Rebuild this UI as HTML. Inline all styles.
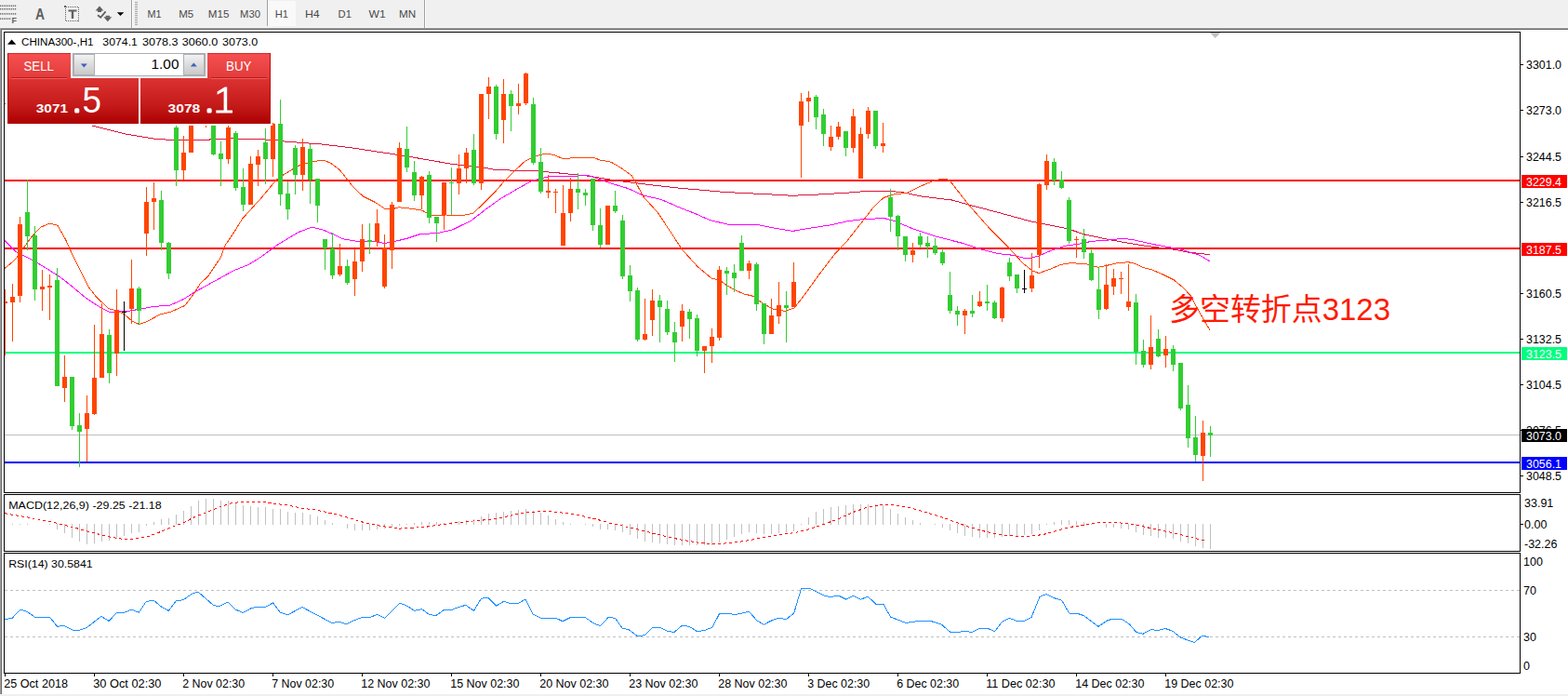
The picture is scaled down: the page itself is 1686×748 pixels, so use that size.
<!DOCTYPE html>
<html><head><meta charset="utf-8"><title>CHINA300-,H1</title>
<style>html,body{margin:0;padding:0;background:#fff;}body{width:1686px;height:748px;overflow:hidden;font-family:"Liberation Sans", sans-serif;}svg text{white-space:pre}</style>
</head><body>
<svg width="1686" height="748" viewBox="0 0 1686 748" font-family='"Liberation Sans", sans-serif' style="display:block">
<defs>
<linearGradient id="gTop" x1="0" y1="0" x2="0" y2="1"><stop offset="0" stop-color="#f65050"/><stop offset="1" stop-color="#e03a3a"/></linearGradient>
<linearGradient id="gBot" x1="0" y1="0" x2="0" y2="1"><stop offset="0" stop-color="#dc3232"/><stop offset="0.6" stop-color="#c41a1a"/><stop offset="1" stop-color="#ac0000"/></linearGradient>
<linearGradient id="gBtn" x1="0" y1="0" x2="0" y2="1"><stop offset="0" stop-color="#f4f4f4"/><stop offset="0.5" stop-color="#dcdcdc"/><stop offset="1" stop-color="#c8c8c8"/></linearGradient>
<clipPath id="cpMain"><rect x="5" y="35" width="1629" height="494"/></clipPath>
</defs>
<rect x="0" y="0" width="1686" height="748" fill="#ffffff" />
<rect x="0" y="0" width="1686" height="31" fill="#f0f0f0" />
<rect x="0" y="29" width="1686" height="1" fill="#f6f6f6" />
<rect x="0" y="30" width="1686" height="1" fill="#a0a0a0" />
<rect x="0" y="31" width="1686" height="1" fill="#696969" />
<rect x="0" y="30" width="1" height="716" fill="#a0a0a0" />
<rect x="1" y="31" width="1" height="715" fill="#696969" />
<rect x="0" y="746" width="1686" height="2" fill="#f0f0f0" />
<g fill="#606060">
<rect x="0.1" y="5.5" width="1.1" height="1.6"/>
<rect x="2.1" y="5.5" width="1.1" height="1.6"/>
<rect x="4.1" y="5.5" width="1.1" height="1.6"/>
<rect x="6.1" y="5.5" width="1.1" height="1.6"/>
<rect x="8.1" y="5.5" width="1.1" height="1.6"/>
<rect x="10.1" y="5.5" width="1.1" height="1.6"/>
<rect x="12.1" y="5.5" width="1.1" height="1.6"/>
<rect x="14.1" y="5.5" width="1.1" height="1.6"/>
<rect x="16.1" y="5.5" width="1.1" height="1.6"/>
<rect x="0.1" y="8.9" width="1.1" height="1.6"/>
<rect x="2.1" y="8.9" width="1.1" height="1.6"/>
<rect x="4.1" y="8.9" width="1.1" height="1.6"/>
<rect x="6.1" y="8.9" width="1.1" height="1.6"/>
<rect x="8.1" y="8.9" width="1.1" height="1.6"/>
<rect x="10.1" y="8.9" width="1.1" height="1.6"/>
<rect x="12.1" y="8.9" width="1.1" height="1.6"/>
<rect x="14.1" y="8.9" width="1.1" height="1.6"/>
<rect x="16.1" y="8.9" width="1.1" height="1.6"/>
<rect x="0.1" y="14.1" width="1.1" height="1.6"/>
<rect x="2.1" y="14.1" width="1.1" height="1.6"/>
<rect x="4.1" y="14.1" width="1.1" height="1.6"/>
<rect x="6.1" y="14.1" width="1.1" height="1.6"/>
<rect x="8.1" y="14.1" width="1.1" height="1.6"/>
<rect x="10.1" y="14.1" width="1.1" height="1.6"/>
<rect x="12.1" y="14.1" width="1.1" height="1.6"/>
<rect x="14.1" y="14.1" width="1.1" height="1.6"/>
<rect x="16.1" y="14.1" width="1.1" height="1.6"/>
<rect x="0.1" y="19.4" width="1.1" height="1.6"/>
<rect x="2.1" y="19.4" width="1.1" height="1.6"/>
<rect x="4.1" y="19.4" width="1.1" height="1.6"/>
<rect x="6.1" y="19.4" width="1.1" height="1.6"/>
<rect x="8.1" y="19.4" width="1.1" height="1.6"/>
<rect x="10.1" y="19.4" width="1.1" height="1.6"/>
</g>
<text x="12.5" y="25" font-size="9" font-weight="bold" fill="#606060">F</text>
<text x="38" y="20.5" font-size="16" font-weight="bold" fill="#606060" textLength="10" lengthAdjust="spacingAndGlyphs">A</text>
<rect x="70.5" y="7.5" width="14" height="15" fill="none" stroke="#606060" stroke-width="1" stroke-dasharray="1 1" shape-rendering="crispEdges"/>
<rect x="69" y="6" width="2" height="2" fill="#606060"/>
<path d="M73.5 10.5H82.5V12.5H79.2V20H76.8V12.5H73.5Z" fill="#606060"/>
<path d="M107 6.4L111.4 11.6H109V13H105V11.6H102.6Z" fill="#606060"/>
<path d="M105 16.3L108.2 18.8L113.6 12.4" fill="none" stroke="#606060" stroke-width="1.8"/>
<path d="M111.5 18.2H120.2L115.8 23.2Z" fill="#606060"/>
<path d="M113.6 16.8H118V18.3H113.6Z" fill="#606060"/>
<path d="M125.8 13.2H133.3L129.5 17Z" fill="#000"/>
<g shape-rendering="crispEdges">
<rect x="141" y="0" width="1" height="30" fill="#a0a0a0"/>
<rect x="142" y="0" width="1" height="30" fill="#ffffff"/>
<rect x="145" y="2" width="3" height="1" fill="#a8a8a8"/>
<rect x="145" y="4" width="3" height="1" fill="#a8a8a8"/>
<rect x="145" y="6" width="3" height="1" fill="#a8a8a8"/>
<rect x="145" y="8" width="3" height="1" fill="#a8a8a8"/>
<rect x="145" y="10" width="3" height="1" fill="#a8a8a8"/>
<rect x="145" y="12" width="3" height="1" fill="#a8a8a8"/>
<rect x="145" y="14" width="3" height="1" fill="#a8a8a8"/>
<rect x="145" y="16" width="3" height="1" fill="#a8a8a8"/>
<rect x="145" y="18" width="3" height="1" fill="#a8a8a8"/>
<rect x="145" y="20" width="3" height="1" fill="#a8a8a8"/>
<rect x="145" y="22" width="3" height="1" fill="#a8a8a8"/>
<rect x="145" y="24" width="3" height="1" fill="#a8a8a8"/>
<rect x="145" y="26" width="3" height="1" fill="#a8a8a8"/>
<rect x="288" y="1" width="30" height="27" fill="#f9f9f9"/>
<rect x="287" y="0" width="1" height="28" fill="#a0a0a0"/>
<rect x="456" y="0" width="1" height="30" fill="#a0a0a0"/>
<rect x="457" y="0" width="1" height="30" fill="#ffffff"/>
</g>
<text x="158.4" y="19" font-size="11.5" fill="#4a4a4a" textLength="15.1" lengthAdjust="spacingAndGlyphs">M1</text>
<text x="192.2" y="19" font-size="11.5" fill="#4a4a4a" textLength="16.0" lengthAdjust="spacingAndGlyphs">M5</text>
<text x="223.8" y="19" font-size="11.5" fill="#4a4a4a" textLength="22.6" lengthAdjust="spacingAndGlyphs">M15</text>
<text x="258" y="19" font-size="11.5" fill="#4a4a4a" textLength="21.9" lengthAdjust="spacingAndGlyphs">M30</text>
<text x="295.7" y="19" font-size="11.5" fill="#4a4a4a" textLength="14.2" lengthAdjust="spacingAndGlyphs">H1</text>
<text x="328" y="19" font-size="11.5" fill="#4a4a4a" textLength="15.7" lengthAdjust="spacingAndGlyphs">H4</text>
<text x="363.6" y="19" font-size="11.5" fill="#4a4a4a" textLength="14.3" lengthAdjust="spacingAndGlyphs">D1</text>
<text x="396.5" y="19" font-size="11.5" fill="#4a4a4a" textLength="18.2" lengthAdjust="spacingAndGlyphs">W1</text>
<text x="429.1" y="19" font-size="11.5" fill="#4a4a4a" textLength="18.2" lengthAdjust="spacingAndGlyphs">MN</text>
<g shape-rendering="crispEdges" fill="none" stroke="#000" stroke-width="1">
<path d="M4.5 34.5H1634.5V529.5H4.5Z"/>
<path d="M4.5 531.5H1634.5V592.5H4.5Z"/>
<path d="M4.5 594.5H1634.5V723.5H4.5Z"/>
</g>
<g clip-path="url(#cpMain)">
<rect x="5" y="467" width="1629" height="1" fill="#c0c0c0" shape-rendering="crispEdges"/>
<g shape-rendering="crispEdges">
<rect x="5" y="193" width="1629" height="2" fill="#ff0000" />
<rect x="5" y="266" width="1629" height="2" fill="#ff0000" />
<rect x="5" y="378" width="1629" height="2" fill="#00ff7f" />
<rect x="5" y="496" width="1629" height="2" fill="#0000ff" />
</g>
<polyline points="5.0,111.5 50.0,123.0 100.2,135.3 133.6,143.7 167.0,149.3 180.0,150.1 208.4,150.9 246.8,148.9 280.2,149.7 296.9,150.6 307.0,152.1 347.0,155.1 380.5,159.2 413.9,164.3 430.6,166.8 450.0,170.1 483.4,175.9 500.1,178.1 521.8,180.4 533.5,182.6 577.0,183.8 600.4,185.9 633.8,189.3 658.8,193.5 683.9,196.8 709.0,199.8 730.0,202.1 780.0,206.5 830.0,209.0 851.7,210.3 880.1,209.0 913.5,207.0 933.6,205.3 957.0,205.3 972.0,207.0 990.1,210.9 1023.5,215.0 1040.2,219.7 1073.6,228.4 1107.0,237.6 1132.1,242.6 1148.8,246.0 1165.5,251.8 1190.6,257.1 1207.3,260.2 1227.1,263.6 1260.5,267.8 1277.2,271.1 1300.6,273.6" fill="none" stroke="#dc143c" stroke-width="1" stroke-linejoin="round" shape-rendering="crispEdges"/>
<polyline points="5.0,258.5 16.7,270.2 33.4,278.6 50.1,288.6 61.8,295.8 75.2,305.9 91.9,320.0 108.6,330.9 116.9,335.1 127.0,335.1 138.7,334.3 150.4,332.1 167.0,329.2 182.1,328.4 197.1,321.7 208.8,314.2 225.5,305.0 242.2,295.8 250.6,291.1 267.3,284.4 280.0,276.6 300.0,262.0 321.2,249.5 335.4,244.1 346.7,246.8 358.4,251.8 368.4,256.8 385.1,259.6 400.2,259.0 413.5,261.5 425.2,259.3 438.6,256.0 452.0,251.5 470.3,250.6 487.0,246.8 507.1,236.8 522.1,225.1 537.2,214.2 556.9,202.6 572.0,194.3 590.3,189.6 617.0,189.3 632.1,188.4 642.1,191.8 658.8,197.6 675.5,202.6 692.2,210.2 710.6,214.3 730.0,222.7 748.6,230.0 763.6,236.7 783.7,241.4 813.8,241.4 830.5,244.7 852.2,248.4 872.2,245.0 894.0,241.7 910.0,238.0 925.0,236.0 940.0,235.1 950.0,234.3 961.7,237.6 981.8,246.0 1006.8,254.3 1033.5,261.0 1056.9,268.5 1073.6,272.7 1090.3,274.4 1100.4,277.2 1108.7,277.2 1117.1,274.9 1132.1,268.5 1145.5,264.3 1162.2,261.8 1173.9,259.3 1190.6,258.1 1207.3,256.3 1218.7,257.8 1243.8,263.3 1268.8,267.8 1290.5,274.5 1301.0,281.0" fill="none" stroke="#ff00ff" stroke-width="1" stroke-linejoin="round" shape-rendering="crispEdges"/>
<polyline points="5.0,288.6 16.7,278.6 33.4,255.2 43.4,244.3 53.5,240.1 61.8,242.1 70.2,256.8 80.2,278.6 88.5,295.0 95.2,308.4 103.6,319.2 116.9,331.8 125.3,333.8 133.6,337.6 142.0,345.1 149.5,348.5 157.0,346.0 172.0,338.1 183.8,335.1 198.8,328.4 208.8,315.0 215.5,304.5 223.9,296.7 237.2,276.9 242.2,263.5 251.8,249.5 260.6,235.1 280.2,213.5 296.9,193.5 303.6,188.5 313.6,182.6 323.7,176.8 337.0,173.4 347.9,172.3 355.4,175.1 365.4,182.6 373.8,193.5 380.5,201.8 390.5,211.0 403.9,217.7 413.9,224.4 421.4,224.9 428.9,222.7 440.6,224.1 454.0,226.1 463.4,231.5 480.0,231.0 495.1,231.9 508.5,229.4 520.2,218.5 531.9,206.8 541.9,195.1 553.6,183.4 565.3,172.6 577.0,167.6 587.0,165.1 595.3,166.4 605.4,170.6 617.0,169.7 627.1,169.2 638.8,169.7 645.5,172.1 657.2,174.2 667.2,180.1 678.9,188.4 683.9,196.8 692.2,211.8 707.3,228.5 720.6,248.6 733.6,268.4 750.3,286.8 765.3,299.3 773.7,301.0 780.4,306.0 790.4,311.9 800.4,316.0 810.4,318.5 820.4,326.1 830.5,331.9 843.8,334.4 853.9,331.1 863.9,318.5 880.6,295.2 897.3,273.4 910.0,260.0 925.0,241.0 940.0,221.7 950.0,212.5 961.7,208.7 975.1,207.5 990.1,200.0 1003.7,194.4 1012.1,192.2 1018.8,192.7 1022.1,195.2 1040.2,218.4 1063.6,245.1 1083.7,265.2 1100.4,283.5 1110.4,291.1 1117.1,293.6 1128.8,289.4 1140.5,284.4 1150.5,282.7 1167.2,283.5 1180.6,287.2 1190.6,285.2 1204.0,282.2 1214.0,281.9 1220.0,283.2 1228.9,287.5 1238.9,290.0 1250.6,295.0 1262.3,300.9 1272.3,309.2 1280.0,317.6 1290.0,336.0 1301.0,355.0" fill="none" stroke="#ff4500" stroke-width="1" stroke-linejoin="round" shape-rendering="crispEdges"/>
<g shape-rendering="crispEdges">
<rect x="5" y="311" width="1" height="71" fill="#ff4500" />
<rect x="3" y="324" width="5" height="2" fill="#ff4500" />
<rect x="13" y="305" width="1" height="62" fill="#ff4500" />
<rect x="11" y="319" width="5" height="6" fill="#ff4500" />
<rect x="21" y="233" width="1" height="92" fill="#ff4500" />
<rect x="19" y="241" width="5" height="77" fill="#ff4500" />
<rect x="29" y="193" width="1" height="76" fill="#32cd32" />
<rect x="27" y="228" width="5" height="26" fill="#32cd32" />
<rect x="37" y="243" width="1" height="80" fill="#32cd32" />
<rect x="35" y="253" width="5" height="58" fill="#32cd32" />
<rect x="45" y="290" width="1" height="44" fill="#ff4500" />
<rect x="43" y="308" width="5" height="3" fill="#ff4500" />
<rect x="53" y="295" width="1" height="49" fill="#ff4500" />
<rect x="51" y="307" width="5" height="2" fill="#ff4500" />
<rect x="61" y="288" width="1" height="127" fill="#32cd32" />
<rect x="59" y="301" width="5" height="114" fill="#32cd32" />
<rect x="69" y="382" width="1" height="50" fill="#ff4500" />
<rect x="67" y="405" width="5" height="12" fill="#ff4500" />
<rect x="77" y="405" width="1" height="57" fill="#32cd32" />
<rect x="75" y="405" width="5" height="53" fill="#32cd32" />
<rect x="85" y="444" width="1" height="58" fill="#32cd32" />
<rect x="83" y="457" width="5" height="7" fill="#32cd32" />
<rect x="93" y="425" width="1" height="71" fill="#ff4500" />
<rect x="91" y="444" width="5" height="17" fill="#ff4500" />
<rect x="101" y="349" width="1" height="97" fill="#ff4500" />
<rect x="99" y="406" width="5" height="39" fill="#ff4500" />
<rect x="109" y="326" width="1" height="80" fill="#ff4500" />
<rect x="107" y="359" width="5" height="47" fill="#ff4500" />
<rect x="117" y="354" width="1" height="58" fill="#32cd32" />
<rect x="115" y="360" width="5" height="41" fill="#32cd32" />
<rect x="125" y="311" width="1" height="93" fill="#ff4500" />
<rect x="123" y="333" width="5" height="47" fill="#ff4500" />
<rect x="133" y="324" width="1" height="53" fill="#000000" />
<rect x="131" y="335" width="5" height="1" fill="#000000" />
<rect x="141" y="279" width="1" height="69" fill="#ff4500" />
<rect x="139" y="310" width="5" height="22" fill="#ff4500" />
<rect x="149" y="308" width="1" height="41" fill="#32cd32" />
<rect x="147" y="310" width="5" height="24" fill="#32cd32" />
<rect x="157" y="201" width="1" height="74" fill="#ff4500" />
<rect x="155" y="217" width="5" height="34" fill="#ff4500" />
<rect x="165" y="196" width="1" height="51" fill="#ff4500" />
<rect x="163" y="213" width="5" height="4" fill="#ff4500" />
<rect x="173" y="205" width="1" height="64" fill="#32cd32" />
<rect x="171" y="215" width="5" height="46" fill="#32cd32" />
<rect x="181" y="260" width="1" height="40" fill="#32cd32" />
<rect x="179" y="261" width="5" height="33" fill="#32cd32" />
<rect x="189" y="120" width="1" height="80" fill="#32cd32" />
<rect x="187" y="137" width="5" height="46" fill="#32cd32" />
<rect x="197" y="146" width="1" height="47" fill="#ff4500" />
<rect x="195" y="164" width="5" height="19" fill="#ff4500" />
<rect x="205" y="105" width="1" height="59" fill="#ff4500" />
<rect x="203" y="110" width="5" height="54" fill="#ff4500" />
<rect x="213" y="95" width="1" height="33" fill="#32cd32" />
<rect x="211" y="100" width="5" height="25" fill="#32cd32" />
<rect x="221" y="98" width="1" height="39" fill="#ff4500" />
<rect x="219" y="105" width="5" height="25" fill="#ff4500" />
<rect x="229" y="110" width="1" height="57" fill="#32cd32" />
<rect x="227" y="115" width="5" height="51" fill="#32cd32" />
<rect x="237" y="152" width="1" height="48" fill="#32cd32" />
<rect x="235" y="165" width="5" height="6" fill="#32cd32" />
<rect x="245" y="135" width="1" height="41" fill="#ff4500" />
<rect x="243" y="137" width="5" height="34" fill="#ff4500" />
<rect x="253" y="141" width="1" height="64" fill="#32cd32" />
<rect x="251" y="143" width="5" height="59" fill="#32cd32" />
<rect x="261" y="181" width="1" height="46" fill="#32cd32" />
<rect x="259" y="201" width="5" height="19" fill="#32cd32" />
<rect x="269" y="168" width="1" height="52" fill="#ff4500" />
<rect x="267" y="176" width="5" height="44" fill="#ff4500" />
<rect x="277" y="161" width="1" height="39" fill="#ff4500" />
<rect x="275" y="168" width="5" height="9" fill="#ff4500" />
<rect x="285" y="138" width="1" height="60" fill="#32cd32" />
<rect x="283" y="153" width="5" height="18" fill="#32cd32" />
<rect x="293" y="132" width="1" height="58" fill="#ff4500" />
<rect x="291" y="133" width="5" height="38" fill="#ff4500" />
<rect x="301" y="107" width="1" height="114" fill="#32cd32" />
<rect x="299" y="133" width="5" height="76" fill="#32cd32" />
<rect x="309" y="195" width="1" height="41" fill="#32cd32" />
<rect x="307" y="208" width="5" height="17" fill="#32cd32" />
<rect x="317" y="156" width="1" height="53" fill="#32cd32" />
<rect x="315" y="159" width="5" height="29" fill="#32cd32" />
<rect x="325" y="149" width="1" height="56" fill="#ff4500" />
<rect x="323" y="158" width="5" height="30" fill="#ff4500" />
<rect x="333" y="155" width="1" height="64" fill="#32cd32" />
<rect x="331" y="160" width="5" height="33" fill="#32cd32" />
<rect x="341" y="192" width="1" height="47" fill="#32cd32" />
<rect x="339" y="192" width="5" height="29" fill="#32cd32" />
<rect x="349" y="257" width="1" height="33" fill="#32cd32" />
<rect x="347" y="257" width="5" height="10" fill="#32cd32" />
<rect x="357" y="250" width="1" height="50" fill="#32cd32" />
<rect x="355" y="267" width="5" height="29" fill="#32cd32" />
<rect x="365" y="262" width="1" height="35" fill="#ff4500" />
<rect x="363" y="286" width="5" height="9" fill="#ff4500" />
<rect x="373" y="279" width="1" height="27" fill="#32cd32" />
<rect x="371" y="286" width="5" height="18" fill="#32cd32" />
<rect x="381" y="267" width="1" height="51" fill="#ff4500" />
<rect x="379" y="281" width="5" height="19" fill="#ff4500" />
<rect x="389" y="241" width="1" height="51" fill="#ff4500" />
<rect x="387" y="257" width="5" height="24" fill="#ff4500" />
<rect x="397" y="240" width="1" height="33" fill="#32cd32" />
<rect x="395" y="258" width="5" height="2" fill="#32cd32" />
<rect x="405" y="225" width="1" height="40" fill="#ff4500" />
<rect x="403" y="240" width="5" height="20" fill="#ff4500" />
<rect x="413" y="252" width="1" height="58" fill="#ff4500" />
<rect x="411" y="266" width="5" height="42" fill="#ff4500" />
<rect x="421" y="217" width="1" height="72" fill="#ff4500" />
<rect x="419" y="220" width="5" height="49" fill="#ff4500" />
<rect x="429" y="153" width="1" height="64" fill="#ff4500" />
<rect x="427" y="159" width="5" height="58" fill="#ff4500" />
<rect x="437" y="136" width="1" height="49" fill="#32cd32" />
<rect x="435" y="160" width="5" height="20" fill="#32cd32" />
<rect x="445" y="173" width="1" height="43" fill="#32cd32" />
<rect x="443" y="185" width="5" height="25" fill="#32cd32" />
<rect x="453" y="189" width="1" height="36" fill="#ff4500" />
<rect x="451" y="190" width="5" height="20" fill="#ff4500" />
<rect x="461" y="184" width="1" height="56" fill="#32cd32" />
<rect x="459" y="188" width="5" height="46" fill="#32cd32" />
<rect x="469" y="233" width="1" height="27" fill="#32cd32" />
<rect x="467" y="233" width="5" height="7" fill="#32cd32" />
<rect x="477" y="196" width="1" height="51" fill="#ff4500" />
<rect x="475" y="196" width="5" height="35" fill="#ff4500" />
<rect x="485" y="180" width="1" height="51" fill="#32cd32" />
<rect x="483" y="196" width="5" height="1" fill="#32cd32" />
<rect x="493" y="166" width="1" height="43" fill="#ff4500" />
<rect x="491" y="181" width="5" height="16" fill="#ff4500" />
<rect x="501" y="159" width="1" height="38" fill="#ff4500" />
<rect x="499" y="164" width="5" height="17" fill="#ff4500" />
<rect x="509" y="144" width="1" height="55" fill="#32cd32" />
<rect x="507" y="161" width="5" height="36" fill="#32cd32" />
<rect x="517" y="101" width="1" height="103" fill="#ff4500" />
<rect x="515" y="101" width="5" height="96" fill="#ff4500" />
<rect x="525" y="83" width="1" height="45" fill="#ff4500" />
<rect x="523" y="93" width="5" height="8" fill="#ff4500" />
<rect x="533" y="91" width="1" height="59" fill="#32cd32" />
<rect x="531" y="93" width="5" height="51" fill="#32cd32" />
<rect x="541" y="85" width="1" height="69" fill="#ff4500" />
<rect x="539" y="101" width="5" height="28" fill="#ff4500" />
<rect x="549" y="97" width="1" height="44" fill="#32cd32" />
<rect x="547" y="101" width="5" height="13" fill="#32cd32" />
<rect x="557" y="90" width="1" height="33" fill="#ff4500" />
<rect x="555" y="111" width="5" height="3" fill="#ff4500" />
<rect x="565" y="78" width="1" height="35" fill="#ff4500" />
<rect x="563" y="79" width="5" height="32" fill="#ff4500" />
<rect x="573" y="105" width="1" height="72" fill="#32cd32" />
<rect x="571" y="112" width="5" height="63" fill="#32cd32" />
<rect x="581" y="159" width="1" height="49" fill="#32cd32" />
<rect x="579" y="174" width="5" height="32" fill="#32cd32" />
<rect x="589" y="188" width="1" height="25" fill="#ff4500" />
<rect x="587" y="205" width="5" height="2" fill="#ff4500" />
<rect x="597" y="203" width="1" height="26" fill="#ff4500" />
<rect x="595" y="206" width="5" height="1" fill="#ff4500" />
<rect x="605" y="199" width="1" height="65" fill="#ff4500" />
<rect x="603" y="229" width="5" height="35" fill="#ff4500" />
<rect x="613" y="191" width="1" height="47" fill="#ff4500" />
<rect x="611" y="203" width="5" height="26" fill="#ff4500" />
<rect x="621" y="186" width="1" height="39" fill="#32cd32" />
<rect x="619" y="203" width="5" height="4" fill="#32cd32" />
<rect x="629" y="203" width="1" height="18" fill="#32cd32" />
<rect x="627" y="207" width="5" height="3" fill="#32cd32" />
<rect x="637" y="192" width="1" height="56" fill="#32cd32" />
<rect x="635" y="192" width="5" height="50" fill="#32cd32" />
<rect x="645" y="224" width="1" height="42" fill="#32cd32" />
<rect x="643" y="242" width="5" height="21" fill="#32cd32" />
<rect x="653" y="221" width="1" height="42" fill="#ff4500" />
<rect x="651" y="221" width="5" height="42" fill="#ff4500" />
<rect x="661" y="205" width="1" height="24" fill="#32cd32" />
<rect x="659" y="221" width="5" height="6" fill="#32cd32" />
<rect x="669" y="231" width="1" height="69" fill="#32cd32" />
<rect x="667" y="237" width="5" height="60" fill="#32cd32" />
<rect x="677" y="285" width="1" height="39" fill="#32cd32" />
<rect x="675" y="296" width="5" height="17" fill="#32cd32" />
<rect x="685" y="309" width="1" height="58" fill="#32cd32" />
<rect x="683" y="312" width="5" height="53" fill="#32cd32" />
<rect x="693" y="321" width="1" height="45" fill="#ff4500" />
<rect x="691" y="359" width="5" height="6" fill="#ff4500" />
<rect x="701" y="311" width="1" height="50" fill="#ff4500" />
<rect x="699" y="323" width="5" height="21" fill="#ff4500" />
<rect x="709" y="317" width="1" height="51" fill="#32cd32" />
<rect x="707" y="323" width="5" height="7" fill="#32cd32" />
<rect x="717" y="323" width="1" height="37" fill="#32cd32" />
<rect x="715" y="332" width="5" height="25" fill="#32cd32" />
<rect x="725" y="346" width="1" height="43" fill="#32cd32" />
<rect x="723" y="357" width="5" height="11" fill="#32cd32" />
<rect x="733" y="327" width="1" height="40" fill="#ff4500" />
<rect x="731" y="334" width="5" height="17" fill="#ff4500" />
<rect x="741" y="332" width="1" height="32" fill="#32cd32" />
<rect x="739" y="335" width="5" height="8" fill="#32cd32" />
<rect x="749" y="338" width="1" height="45" fill="#32cd32" />
<rect x="747" y="342" width="5" height="35" fill="#32cd32" />
<rect x="757" y="372" width="1" height="29" fill="#ff4500" />
<rect x="755" y="372" width="5" height="5" fill="#ff4500" />
<rect x="765" y="353" width="1" height="37" fill="#ff4500" />
<rect x="763" y="362" width="5" height="10" fill="#ff4500" />
<rect x="773" y="286" width="1" height="80" fill="#ff4500" />
<rect x="771" y="290" width="5" height="73" fill="#ff4500" />
<rect x="781" y="287" width="1" height="30" fill="#32cd32" />
<rect x="779" y="291" width="5" height="3" fill="#32cd32" />
<rect x="789" y="284" width="1" height="30" fill="#32cd32" />
<rect x="787" y="293" width="5" height="6" fill="#32cd32" />
<rect x="797" y="253" width="1" height="38" fill="#32cd32" />
<rect x="795" y="261" width="5" height="30" fill="#32cd32" />
<rect x="805" y="280" width="1" height="20" fill="#ff4500" />
<rect x="803" y="283" width="5" height="8" fill="#ff4500" />
<rect x="813" y="282" width="1" height="52" fill="#32cd32" />
<rect x="811" y="284" width="5" height="43" fill="#32cd32" />
<rect x="821" y="326" width="1" height="44" fill="#32cd32" />
<rect x="819" y="326" width="5" height="33" fill="#32cd32" />
<rect x="829" y="321" width="1" height="38" fill="#ff4500" />
<rect x="827" y="339" width="5" height="20" fill="#ff4500" />
<rect x="837" y="303" width="1" height="45" fill="#ff4500" />
<rect x="835" y="328" width="5" height="12" fill="#ff4500" />
<rect x="845" y="313" width="1" height="55" fill="#32cd32" />
<rect x="843" y="328" width="5" height="3" fill="#32cd32" />
<rect x="853" y="282" width="1" height="48" fill="#ff4500" />
<rect x="851" y="303" width="5" height="27" fill="#ff4500" />
<rect x="861" y="100" width="1" height="91" fill="#ff4500" />
<rect x="859" y="109" width="5" height="26" fill="#ff4500" />
<rect x="869" y="98" width="1" height="33" fill="#ff4500" />
<rect x="867" y="105" width="5" height="4" fill="#ff4500" />
<rect x="877" y="102" width="1" height="37" fill="#32cd32" />
<rect x="875" y="104" width="5" height="22" fill="#32cd32" />
<rect x="885" y="117" width="1" height="40" fill="#32cd32" />
<rect x="883" y="123" width="5" height="21" fill="#32cd32" />
<rect x="893" y="135" width="1" height="27" fill="#ff4500" />
<rect x="891" y="147" width="5" height="11" fill="#ff4500" />
<rect x="901" y="131" width="1" height="19" fill="#ff4500" />
<rect x="899" y="136" width="5" height="11" fill="#ff4500" />
<rect x="909" y="141" width="1" height="27" fill="#32cd32" />
<rect x="907" y="141" width="5" height="18" fill="#32cd32" />
<rect x="917" y="117" width="1" height="47" fill="#ff4500" />
<rect x="915" y="125" width="5" height="34" fill="#ff4500" />
<rect x="925" y="137" width="1" height="55" fill="#ff4500" />
<rect x="923" y="144" width="5" height="48" fill="#ff4500" />
<rect x="933" y="115" width="1" height="34" fill="#ff4500" />
<rect x="931" y="119" width="5" height="25" fill="#ff4500" />
<rect x="941" y="119" width="1" height="41" fill="#32cd32" />
<rect x="939" y="119" width="5" height="38" fill="#32cd32" />
<rect x="949" y="132" width="1" height="32" fill="#ff4500" />
<rect x="947" y="154" width="5" height="3" fill="#ff4500" />
<rect x="957" y="203" width="1" height="46" fill="#32cd32" />
<rect x="955" y="212" width="5" height="21" fill="#32cd32" />
<rect x="965" y="231" width="1" height="38" fill="#32cd32" />
<rect x="963" y="232" width="5" height="22" fill="#32cd32" />
<rect x="973" y="254" width="1" height="27" fill="#32cd32" />
<rect x="971" y="254" width="5" height="20" fill="#32cd32" />
<rect x="981" y="261" width="1" height="21" fill="#ff4500" />
<rect x="979" y="269" width="5" height="5" fill="#ff4500" />
<rect x="989" y="250" width="1" height="17" fill="#32cd32" />
<rect x="987" y="254" width="5" height="9" fill="#32cd32" />
<rect x="997" y="254" width="1" height="23" fill="#32cd32" />
<rect x="995" y="261" width="5" height="4" fill="#32cd32" />
<rect x="1005" y="256" width="1" height="18" fill="#32cd32" />
<rect x="1003" y="264" width="5" height="8" fill="#32cd32" />
<rect x="1013" y="267" width="1" height="18" fill="#32cd32" />
<rect x="1011" y="271" width="5" height="12" fill="#32cd32" />
<rect x="1021" y="292" width="1" height="45" fill="#32cd32" />
<rect x="1019" y="317" width="5" height="17" fill="#32cd32" />
<rect x="1029" y="329" width="1" height="21" fill="#32cd32" />
<rect x="1027" y="334" width="5" height="4" fill="#32cd32" />
<rect x="1037" y="332" width="1" height="27" fill="#ff4500" />
<rect x="1035" y="334" width="5" height="5" fill="#ff4500" />
<rect x="1045" y="317" width="1" height="24" fill="#32cd32" />
<rect x="1043" y="334" width="5" height="3" fill="#32cd32" />
<rect x="1053" y="313" width="1" height="17" fill="#ff4500" />
<rect x="1051" y="324" width="5" height="5" fill="#ff4500" />
<rect x="1061" y="306" width="1" height="28" fill="#32cd32" />
<rect x="1059" y="324" width="5" height="2" fill="#32cd32" />
<rect x="1069" y="323" width="1" height="20" fill="#32cd32" />
<rect x="1067" y="325" width="5" height="17" fill="#32cd32" />
<rect x="1077" y="308" width="1" height="38" fill="#ff4500" />
<rect x="1075" y="309" width="5" height="33" fill="#ff4500" />
<rect x="1085" y="277" width="1" height="25" fill="#32cd32" />
<rect x="1083" y="282" width="5" height="15" fill="#32cd32" />
<rect x="1093" y="295" width="1" height="20" fill="#32cd32" />
<rect x="1091" y="295" width="5" height="15" fill="#32cd32" />
<rect x="1101" y="290" width="1" height="25" fill="#000000" />
<rect x="1099" y="310" width="5" height="1" fill="#000000" />
<rect x="1109" y="272" width="1" height="42" fill="#ff4500" />
<rect x="1107" y="296" width="5" height="14" fill="#ff4500" />
<rect x="1117" y="197" width="1" height="91" fill="#ff4500" />
<rect x="1115" y="198" width="5" height="76" fill="#ff4500" />
<rect x="1125" y="166" width="1" height="38" fill="#ff4500" />
<rect x="1123" y="173" width="5" height="26" fill="#ff4500" />
<rect x="1133" y="170" width="1" height="29" fill="#32cd32" />
<rect x="1131" y="174" width="5" height="20" fill="#32cd32" />
<rect x="1141" y="184" width="1" height="19" fill="#32cd32" />
<rect x="1139" y="193" width="5" height="9" fill="#32cd32" />
<rect x="1149" y="212" width="1" height="50" fill="#32cd32" />
<rect x="1147" y="215" width="5" height="44" fill="#32cd32" />
<rect x="1157" y="254" width="1" height="23" fill="#ff4500" />
<rect x="1155" y="257" width="5" height="1" fill="#ff4500" />
<rect x="1165" y="246" width="1" height="32" fill="#32cd32" />
<rect x="1163" y="257" width="5" height="14" fill="#32cd32" />
<rect x="1173" y="267" width="1" height="35" fill="#32cd32" />
<rect x="1171" y="272" width="5" height="29" fill="#32cd32" />
<rect x="1181" y="287" width="1" height="56" fill="#32cd32" />
<rect x="1179" y="311" width="5" height="22" fill="#32cd32" />
<rect x="1189" y="284" width="1" height="49" fill="#ff4500" />
<rect x="1187" y="306" width="5" height="26" fill="#ff4500" />
<rect x="1197" y="289" width="1" height="28" fill="#ff4500" />
<rect x="1195" y="299" width="5" height="9" fill="#ff4500" />
<rect x="1205" y="292" width="1" height="24" fill="#ff4500" />
<rect x="1203" y="299" width="5" height="1" fill="#ff4500" />
<rect x="1213" y="284" width="1" height="50" fill="#ff4500" />
<rect x="1211" y="324" width="5" height="6" fill="#ff4500" />
<rect x="1221" y="316" width="1" height="76" fill="#32cd32" />
<rect x="1219" y="325" width="5" height="53" fill="#32cd32" />
<rect x="1229" y="365" width="1" height="30" fill="#32cd32" />
<rect x="1227" y="377" width="5" height="15" fill="#32cd32" />
<rect x="1237" y="339" width="1" height="58" fill="#ff4500" />
<rect x="1235" y="373" width="5" height="19" fill="#ff4500" />
<rect x="1245" y="354" width="1" height="30" fill="#32cd32" />
<rect x="1243" y="364" width="5" height="19" fill="#32cd32" />
<rect x="1253" y="361" width="1" height="34" fill="#ff4500" />
<rect x="1251" y="375" width="5" height="7" fill="#ff4500" />
<rect x="1261" y="371" width="1" height="28" fill="#32cd32" />
<rect x="1259" y="375" width="5" height="17" fill="#32cd32" />
<rect x="1269" y="390" width="1" height="51" fill="#32cd32" />
<rect x="1267" y="390" width="5" height="49" fill="#32cd32" />
<rect x="1277" y="414" width="1" height="67" fill="#32cd32" />
<rect x="1275" y="435" width="5" height="36" fill="#32cd32" />
<rect x="1285" y="447" width="1" height="49" fill="#32cd32" />
<rect x="1283" y="470" width="5" height="19" fill="#32cd32" />
<rect x="1293" y="452" width="1" height="65" fill="#ff4500" />
<rect x="1291" y="465" width="5" height="25" fill="#ff4500" />
<rect x="1301" y="458" width="1" height="33" fill="#32cd32" />
<rect x="1299" y="465" width="5" height="3" fill="#32cd32" />
</g>
</g>
<text x="1257" y="344" font-size="33" fill="#ff1a00" textLength="238" lengthAdjust="spacingAndGlyphs" style='font-family:"Liberation Sans", "Noto Sans CJK SC", sans-serif'>多空转折点3123</text>
<g shape-rendering="crispEdges">
<rect x="6" y="55" width="287" height="80" fill="#ffffff"/>
<rect x="8" y="84" width="141" height="49" fill="url(#gBot)"/>
<rect x="151" y="84" width="140" height="49" fill="url(#gBot)"/>
<rect x="8" y="57" width="68" height="28" fill="url(#gTop)"/>
<rect x="223" y="57" width="68" height="28" fill="url(#gTop)"/>
<rect x="8" y="57" width="68" height="1" fill="#d42a2a"/>
<rect x="223" y="57" width="68" height="1" fill="#d42a2a"/>
<rect x="8" y="57" width="1" height="76" fill="#b81010"/>
<rect x="290" y="57" width="1" height="76" fill="#b81010"/>
<rect x="12" y="83" width="60" height="1" fill="#c01818"/>
<rect x="12" y="84" width="60" height="1" fill="#f06060"/>
<rect x="227" y="83" width="60" height="1" fill="#c01818"/>
<rect x="227" y="84" width="60" height="1" fill="#f06060"/>
<rect x="76" y="57" width="146" height="27" fill="#f4f4f4"/>
<rect x="78.5" y="57.5" width="142" height="24" fill="#ffffff" stroke="#a8adb8" stroke-width="1"/>
<rect x="79.5" y="58.5" width="22" height="22" fill="url(#gBtn)" stroke="#b0b0b0"/>
<rect x="197.5" y="58.5" width="22" height="22" fill="url(#gBtn)" stroke="#b0b0b0"/>
</g>
<path d="M86.8 68.5H93.8L90.3 72.5Z" fill="#4060c0"/>
<path d="M204.8 71.5H211.8L208.3 67.5Z" fill="#4060c0"/>
<text x="162.6" y="74.3" font-size="14.3" fill="#000" textLength="29.8" lengthAdjust="spacingAndGlyphs">1.00</text>
<text x="25.5" y="76.3" font-size="15.5" fill="#fff" textLength="32.4" lengthAdjust="spacingAndGlyphs">SELL</text>
<text x="243" y="76.3" font-size="15.5" fill="#fff" textLength="27.5" lengthAdjust="spacingAndGlyphs">BUY</text>
<text x="38.8" y="121.2" font-size="13.5" font-weight="bold" fill="#fff" textLength="34.2" lengthAdjust="spacingAndGlyphs">3071</text>
<text x="180.6" y="121.2" font-size="13.5" font-weight="bold" fill="#fff" textLength="34.7" lengthAdjust="spacingAndGlyphs">3078</text>
<rect x="80.1" y="116.3" width="5.2" height="5.3" rx="1.6" fill="#fff"/>
<rect x="222.5" y="116.3" width="5.2" height="5.3" rx="1.6" fill="#fff"/>
<text x="88.5" y="121.2" font-size="38.5" fill="#fff" textLength="20.5" lengthAdjust="spacingAndGlyphs">5</text>
<path d="M244.2 93.6V118.6H250V121.4H232.3V118.6H240.6V98L233.6 101.8V98.4L241.6 93.6Z" fill="#fff"/>
<path d="M1301 35H1312.5L1306.7 41Z" fill="#c0c0c0"/>
<path d="M8 47.7L12.6 42.6L17.3 47.7Z" fill="#000"/>
<text x="23.1" y="48.8" font-size="11.7" fill="#000" text-anchor="start" font-weight="normal" textLength="77.4" lengthAdjust="spacingAndGlyphs" >CHINA300-,H1</text>
<text x="110.3" y="48.8" font-size="11.7" fill="#000" text-anchor="start" font-weight="normal" textLength="37.6" lengthAdjust="spacingAndGlyphs" >3074.1</text>
<text x="153" y="48.8" font-size="11.7" fill="#000" text-anchor="start" font-weight="normal" textLength="38.6" lengthAdjust="spacingAndGlyphs" >3078.3</text>
<text x="195.7" y="48.8" font-size="11.7" fill="#000" text-anchor="start" font-weight="normal" textLength="38.6" lengthAdjust="spacingAndGlyphs" >3060.0</text>
<text x="239" y="48.8" font-size="11.7" fill="#000" text-anchor="start" font-weight="normal" textLength="38.2" lengthAdjust="spacingAndGlyphs" >3073.0</text>
<rect x="1635" y="69" width="3" height="1" fill="#000" shape-rendering="crispEdges"/>
<text x="1641" y="73.5" font-size="12.3" fill="#000" text-anchor="start" font-weight="normal" textLength="38" lengthAdjust="spacingAndGlyphs" >3301.0</text>
<rect x="1635" y="118" width="3" height="1" fill="#000" shape-rendering="crispEdges"/>
<text x="1641" y="122.5" font-size="12.3" fill="#000" text-anchor="start" font-weight="normal" textLength="38" lengthAdjust="spacingAndGlyphs" >3273.0</text>
<rect x="1635" y="168" width="3" height="1" fill="#000" shape-rendering="crispEdges"/>
<text x="1641" y="172.5" font-size="12.3" fill="#000" text-anchor="start" font-weight="normal" textLength="38" lengthAdjust="spacingAndGlyphs" >3244.5</text>
<rect x="1635" y="217" width="3" height="1" fill="#000" shape-rendering="crispEdges"/>
<text x="1641" y="221.5" font-size="12.3" fill="#000" text-anchor="start" font-weight="normal" textLength="38" lengthAdjust="spacingAndGlyphs" >3216.5</text>
<rect x="1635" y="315" width="3" height="1" fill="#000" shape-rendering="crispEdges"/>
<text x="1641" y="319.5" font-size="12.3" fill="#000" text-anchor="start" font-weight="normal" textLength="38" lengthAdjust="spacingAndGlyphs" >3160.5</text>
<rect x="1635" y="364" width="3" height="1" fill="#000" shape-rendering="crispEdges"/>
<text x="1641" y="368.5" font-size="12.3" fill="#000" text-anchor="start" font-weight="normal" textLength="38" lengthAdjust="spacingAndGlyphs" >3132.5</text>
<rect x="1635" y="413" width="3" height="1" fill="#000" shape-rendering="crispEdges"/>
<text x="1641" y="417.5" font-size="12.3" fill="#000" text-anchor="start" font-weight="normal" textLength="38" lengthAdjust="spacingAndGlyphs" >3104.5</text>
<rect x="1635" y="462" width="3" height="1" fill="#000" shape-rendering="crispEdges"/>
<text x="1641" y="466.5" font-size="12.3" fill="#000" text-anchor="start" font-weight="normal" textLength="38" lengthAdjust="spacingAndGlyphs" >3076.5</text>
<rect x="1635" y="511" width="3" height="1" fill="#000" shape-rendering="crispEdges"/>
<text x="1641" y="515.5" font-size="12.3" fill="#000" text-anchor="start" font-weight="normal" textLength="38" lengthAdjust="spacingAndGlyphs" >3048.5</text>
<rect x="1636" y="188" width="49" height="14" fill="#ff0000" shape-rendering="crispEdges"/>
<text x="1641" y="199.7" font-size="12.3" fill="#fff" text-anchor="start" font-weight="normal" textLength="38" lengthAdjust="spacingAndGlyphs" >3229.4</text>
<rect x="1636" y="261" width="49" height="14" fill="#ff0000" shape-rendering="crispEdges"/>
<text x="1641" y="272.7" font-size="12.3" fill="#fff" text-anchor="start" font-weight="normal" textLength="38" lengthAdjust="spacingAndGlyphs" >3187.5</text>
<rect x="1636" y="373" width="49" height="14" fill="#00ff7f" shape-rendering="crispEdges"/>
<text x="1641" y="384.7" font-size="12.3" fill="#fff" text-anchor="start" font-weight="normal" textLength="38" lengthAdjust="spacingAndGlyphs" >3123.5</text>
<rect x="1636" y="461" width="49" height="14" fill="#000000" shape-rendering="crispEdges"/>
<text x="1641" y="472.7" font-size="12.3" fill="#fff" text-anchor="start" font-weight="normal" textLength="38" lengthAdjust="spacingAndGlyphs" >3073.0</text>
<rect x="1636" y="491" width="49" height="14" fill="#0000ff" shape-rendering="crispEdges"/>
<text x="1641" y="502.7" font-size="12.3" fill="#fff" text-anchor="start" font-weight="normal" textLength="38" lengthAdjust="spacingAndGlyphs" >3056.1</text>
<g shape-rendering="crispEdges">
<rect x="13" y="563" width="1" height="1" fill="#c0c0c0" />
<rect x="21" y="563" width="1" height="1" fill="#c0c0c0" />
<rect x="29" y="563" width="1" height="1" fill="#c0c0c0" />
<rect x="53" y="563" width="1" height="1" fill="#c0c0c0" />
<rect x="61" y="563" width="1" height="6" fill="#c0c0c0" />
<rect x="69" y="563" width="1" height="10" fill="#c0c0c0" />
<rect x="77" y="563" width="1" height="15" fill="#c0c0c0" />
<rect x="85" y="563" width="1" height="19" fill="#c0c0c0" />
<rect x="93" y="563" width="1" height="22" fill="#c0c0c0" />
<rect x="101" y="563" width="1" height="21" fill="#c0c0c0" />
<rect x="109" y="563" width="1" height="19" fill="#c0c0c0" />
<rect x="117" y="563" width="1" height="18" fill="#c0c0c0" />
<rect x="125" y="563" width="1" height="16" fill="#c0c0c0" />
<rect x="133" y="563" width="1" height="13" fill="#c0c0c0" />
<rect x="141" y="563" width="1" height="10" fill="#c0c0c0" />
<rect x="149" y="563" width="1" height="9" fill="#c0c0c0" />
<rect x="157" y="563" width="1" height="2" fill="#c0c0c0" />
<rect x="165" y="561" width="1" height="3" fill="#c0c0c0" />
<rect x="173" y="558" width="1" height="6" fill="#c0c0c0" />
<rect x="181" y="557" width="1" height="7" fill="#c0c0c0" />
<rect x="189" y="553" width="1" height="11" fill="#c0c0c0" />
<rect x="197" y="549" width="1" height="15" fill="#c0c0c0" />
<rect x="205" y="544" width="1" height="20" fill="#c0c0c0" />
<rect x="213" y="538" width="1" height="26" fill="#c0c0c0" />
<rect x="221" y="536" width="1" height="28" fill="#c0c0c0" />
<rect x="229" y="536" width="1" height="28" fill="#c0c0c0" />
<rect x="237" y="538" width="1" height="26" fill="#c0c0c0" />
<rect x="245" y="538" width="1" height="26" fill="#c0c0c0" />
<rect x="253" y="540" width="1" height="24" fill="#c0c0c0" />
<rect x="261" y="543" width="1" height="21" fill="#c0c0c0" />
<rect x="269" y="544" width="1" height="20" fill="#c0c0c0" />
<rect x="277" y="545" width="1" height="19" fill="#c0c0c0" />
<rect x="285" y="545" width="1" height="19" fill="#c0c0c0" />
<rect x="293" y="547" width="1" height="17" fill="#c0c0c0" />
<rect x="301" y="547" width="1" height="17" fill="#c0c0c0" />
<rect x="309" y="550" width="1" height="14" fill="#c0c0c0" />
<rect x="317" y="551" width="1" height="13" fill="#c0c0c0" />
<rect x="325" y="551" width="1" height="13" fill="#c0c0c0" />
<rect x="333" y="553" width="1" height="11" fill="#c0c0c0" />
<rect x="341" y="555" width="1" height="9" fill="#c0c0c0" />
<rect x="349" y="559" width="1" height="5" fill="#c0c0c0" />
<rect x="357" y="562" width="1" height="2" fill="#c0c0c0" />
<rect x="373" y="563" width="1" height="5" fill="#c0c0c0" />
<rect x="381" y="563" width="1" height="7" fill="#c0c0c0" />
<rect x="389" y="563" width="1" height="7" fill="#c0c0c0" />
<rect x="397" y="563" width="1" height="7" fill="#c0c0c0" />
<rect x="405" y="563" width="1" height="6" fill="#c0c0c0" />
<rect x="413" y="563" width="1" height="5" fill="#c0c0c0" />
<rect x="421" y="563" width="1" height="4" fill="#c0c0c0" />
<rect x="429" y="563" width="1" height="2" fill="#c0c0c0" />
<rect x="437" y="563" width="1" height="1" fill="#c0c0c0" />
<rect x="445" y="562" width="1" height="2" fill="#c0c0c0" />
<rect x="453" y="561" width="1" height="3" fill="#c0c0c0" />
<rect x="461" y="561" width="1" height="3" fill="#c0c0c0" />
<rect x="469" y="561" width="1" height="3" fill="#c0c0c0" />
<rect x="477" y="562" width="1" height="2" fill="#c0c0c0" />
<rect x="485" y="561" width="1" height="3" fill="#c0c0c0" />
<rect x="493" y="560" width="1" height="4" fill="#c0c0c0" />
<rect x="501" y="559" width="1" height="5" fill="#c0c0c0" />
<rect x="509" y="558" width="1" height="6" fill="#c0c0c0" />
<rect x="517" y="555" width="1" height="9" fill="#c0c0c0" />
<rect x="525" y="552" width="1" height="12" fill="#c0c0c0" />
<rect x="533" y="551" width="1" height="13" fill="#c0c0c0" />
<rect x="541" y="550" width="1" height="14" fill="#c0c0c0" />
<rect x="549" y="549" width="1" height="15" fill="#c0c0c0" />
<rect x="557" y="548" width="1" height="16" fill="#c0c0c0" />
<rect x="565" y="547" width="1" height="17" fill="#c0c0c0" />
<rect x="573" y="549" width="1" height="15" fill="#c0c0c0" />
<rect x="581" y="551" width="1" height="13" fill="#c0c0c0" />
<rect x="589" y="554" width="1" height="10" fill="#c0c0c0" />
<rect x="597" y="558" width="1" height="6" fill="#c0c0c0" />
<rect x="605" y="561" width="1" height="3" fill="#c0c0c0" />
<rect x="613" y="563" width="1" height="1" fill="#c0c0c0" />
<rect x="629" y="563" width="1" height="1" fill="#c0c0c0" />
<rect x="637" y="563" width="1" height="3" fill="#c0c0c0" />
<rect x="645" y="563" width="1" height="6" fill="#c0c0c0" />
<rect x="653" y="563" width="1" height="6" fill="#c0c0c0" />
<rect x="661" y="563" width="1" height="7" fill="#c0c0c0" />
<rect x="669" y="563" width="1" height="9" fill="#c0c0c0" />
<rect x="677" y="563" width="1" height="12" fill="#c0c0c0" />
<rect x="685" y="563" width="1" height="16" fill="#c0c0c0" />
<rect x="693" y="563" width="1" height="19" fill="#c0c0c0" />
<rect x="701" y="563" width="1" height="20" fill="#c0c0c0" />
<rect x="709" y="563" width="1" height="21" fill="#c0c0c0" />
<rect x="717" y="563" width="1" height="22" fill="#c0c0c0" />
<rect x="725" y="563" width="1" height="23" fill="#c0c0c0" />
<rect x="733" y="563" width="1" height="23" fill="#c0c0c0" />
<rect x="741" y="563" width="1" height="23" fill="#c0c0c0" />
<rect x="749" y="563" width="1" height="23" fill="#c0c0c0" />
<rect x="757" y="563" width="1" height="23" fill="#c0c0c0" />
<rect x="765" y="563" width="1" height="23" fill="#c0c0c0" />
<rect x="773" y="563" width="1" height="20" fill="#c0c0c0" />
<rect x="781" y="563" width="1" height="17" fill="#c0c0c0" />
<rect x="789" y="563" width="1" height="14" fill="#c0c0c0" />
<rect x="797" y="563" width="1" height="11" fill="#c0c0c0" />
<rect x="805" y="563" width="1" height="9" fill="#c0c0c0" />
<rect x="813" y="563" width="1" height="10" fill="#c0c0c0" />
<rect x="821" y="563" width="1" height="11" fill="#c0c0c0" />
<rect x="829" y="563" width="1" height="11" fill="#c0c0c0" />
<rect x="837" y="563" width="1" height="10" fill="#c0c0c0" />
<rect x="845" y="563" width="1" height="9" fill="#c0c0c0" />
<rect x="853" y="563" width="1" height="8" fill="#c0c0c0" />
<rect x="861" y="563" width="1" height="1" fill="#c0c0c0" />
<rect x="869" y="556" width="1" height="8" fill="#c0c0c0" />
<rect x="877" y="550" width="1" height="14" fill="#c0c0c0" />
<rect x="885" y="547" width="1" height="17" fill="#c0c0c0" />
<rect x="893" y="545" width="1" height="19" fill="#c0c0c0" />
<rect x="901" y="544" width="1" height="20" fill="#c0c0c0" />
<rect x="909" y="543" width="1" height="21" fill="#c0c0c0" />
<rect x="917" y="542" width="1" height="22" fill="#c0c0c0" />
<rect x="925" y="542" width="1" height="22" fill="#c0c0c0" />
<rect x="933" y="542" width="1" height="22" fill="#c0c0c0" />
<rect x="941" y="542" width="1" height="22" fill="#c0c0c0" />
<rect x="949" y="543" width="1" height="21" fill="#c0c0c0" />
<rect x="957" y="547" width="1" height="17" fill="#c0c0c0" />
<rect x="965" y="552" width="1" height="12" fill="#c0c0c0" />
<rect x="973" y="556" width="1" height="8" fill="#c0c0c0" />
<rect x="981" y="559" width="1" height="5" fill="#c0c0c0" />
<rect x="989" y="562" width="1" height="2" fill="#c0c0c0" />
<rect x="1005" y="563" width="1" height="1" fill="#c0c0c0" />
<rect x="1013" y="563" width="1" height="4" fill="#c0c0c0" />
<rect x="1021" y="563" width="1" height="7" fill="#c0c0c0" />
<rect x="1029" y="563" width="1" height="10" fill="#c0c0c0" />
<rect x="1037" y="563" width="1" height="13" fill="#c0c0c0" />
<rect x="1045" y="563" width="1" height="14" fill="#c0c0c0" />
<rect x="1053" y="563" width="1" height="15" fill="#c0c0c0" />
<rect x="1061" y="563" width="1" height="15" fill="#c0c0c0" />
<rect x="1069" y="563" width="1" height="15" fill="#c0c0c0" />
<rect x="1077" y="563" width="1" height="14" fill="#c0c0c0" />
<rect x="1085" y="563" width="1" height="13" fill="#c0c0c0" />
<rect x="1093" y="563" width="1" height="13" fill="#c0c0c0" />
<rect x="1101" y="563" width="1" height="12" fill="#c0c0c0" />
<rect x="1109" y="563" width="1" height="11" fill="#c0c0c0" />
<rect x="1117" y="563" width="1" height="7" fill="#c0c0c0" />
<rect x="1125" y="563" width="1" height="1" fill="#c0c0c0" />
<rect x="1133" y="561" width="1" height="3" fill="#c0c0c0" />
<rect x="1141" y="559" width="1" height="5" fill="#c0c0c0" />
<rect x="1149" y="559" width="1" height="5" fill="#c0c0c0" />
<rect x="1157" y="560" width="1" height="4" fill="#c0c0c0" />
<rect x="1165" y="561" width="1" height="3" fill="#c0c0c0" />
<rect x="1173" y="563" width="1" height="1" fill="#c0c0c0" />
<rect x="1189" y="563" width="1" height="4" fill="#c0c0c0" />
<rect x="1197" y="563" width="1" height="4" fill="#c0c0c0" />
<rect x="1205" y="563" width="1" height="5" fill="#c0c0c0" />
<rect x="1213" y="563" width="1" height="6" fill="#c0c0c0" />
<rect x="1221" y="563" width="1" height="9" fill="#c0c0c0" />
<rect x="1229" y="563" width="1" height="12" fill="#c0c0c0" />
<rect x="1237" y="563" width="1" height="13" fill="#c0c0c0" />
<rect x="1245" y="563" width="1" height="15" fill="#c0c0c0" />
<rect x="1253" y="563" width="1" height="15" fill="#c0c0c0" />
<rect x="1261" y="563" width="1" height="16" fill="#c0c0c0" />
<rect x="1269" y="563" width="1" height="19" fill="#c0c0c0" />
<rect x="1277" y="563" width="1" height="21" fill="#c0c0c0" />
<rect x="1285" y="563" width="1" height="24" fill="#c0c0c0" />
<rect x="1293" y="563" width="1" height="26" fill="#c0c0c0" />
<rect x="1301" y="563" width="1" height="27" fill="#c0c0c0" />
</g>
<polyline points="5.0,551.6 15.7,553.7 31.4,556.3 52.4,560.2 68.1,563.9 83.9,568.1 99.6,572.5 115.3,576.5 131.0,579.1 144.1,579.1 157.2,577.3 170.3,572.5 183.4,566.8 196.5,562.1 209.6,555.5 222.7,550.3 235.8,545.0 249.0,540.6 262.0,539.3 280.4,539.3 293.5,541.1 309.2,542.9 324.9,546.3 340.7,548.2 353.8,551.1 366.9,554.2 380.0,558.1 393.1,562.1 406.2,564.7 419.3,566.8 429.8,568.1 440.0,567.5 456.2,566.5 482.4,562.6 508.6,560.0 529.6,558.1 545.3,555.0 561.0,551.6 576.8,549.8 592.5,549.5 608.2,551.6 623.9,554.2 639.6,557.6 655.4,562.1 671.1,565.5 686.8,569.1 702.5,573.3 718.3,577.0 734.0,580.4 749.7,583.0 762.8,584.3 778.5,584.1 794.3,582.5 810.0,579.9 825.7,576.5 841.4,574.4 857.2,572.0 870.5,568.6 886.2,563.4 901.9,557.4 917.7,550.3 933.4,545.0 949.1,542.4 964.8,543.2 980.5,546.3 996.3,550.8 1012.0,555.5 1027.7,561.3 1043.4,566.8 1059.2,571.2 1074.9,574.6 1090.6,576.0 1106.3,576.5 1122.1,574.4 1137.8,569.9 1153.5,566.0 1169.2,563.4 1182.3,561.3 1200.7,561.5 1216.4,563.4 1232.1,566.5 1247.8,569.9 1263.6,573.3 1279.3,577.0 1297.6,581.5" fill="none" stroke="#ff0000" stroke-width="1" stroke-linejoin="round" stroke-dasharray="3 3" shape-rendering="crispEdges"/>
<text x="9.2" y="547" font-size="11.5" fill="#000" text-anchor="start" font-weight="normal" textLength="164.5" lengthAdjust="spacingAndGlyphs" >MACD(12,26,9) -29.25 -21.18</text>
<text x="1639" y="545" font-size="12.5" fill="#000" text-anchor="start" font-weight="normal" >33.91</text>
<text x="1639" y="568" font-size="12.5" fill="#000" text-anchor="start" font-weight="normal" >0.00</text>
<text x="1639" y="589" font-size="12.5" fill="#000" text-anchor="start" font-weight="normal" >-32.26</text>
<rect x="1635" y="563" width="3" height="1" fill="#000" shape-rendering="crispEdges"/>
<g shape-rendering="crispEdges" stroke="#c0c0c0" stroke-width="1" stroke-dasharray="3 3">
<path d="M5 634.5H1634"/>
<path d="M5 684.5H1634"/>
</g>
<polyline points="5.0,665.6 13.1,664.3 21.8,655.1 28.8,657.2 38.0,663.5 53.7,663.5 61.6,673.4 68.7,672.1 78.6,677.4 85.2,677.4 93.0,674.8 108.8,662.4 117.1,667.4 125.8,658.2 133.6,658.2 141.5,655.1 149.4,658.2 157.2,646.4 165.1,645.1 173.0,651.7 181.3,656.4 189.2,645.9 197.1,644.6 205.7,638.6 212.8,636.0 221.4,643.3 229.3,650.4 235.8,651.7 245.0,647.2 253.4,655.1 261.3,658.5 269.9,653.8 275.2,652.5 285.1,652.5 293.5,648.0 301.4,658.2 309.2,660.9 324.9,652.5 340.7,660.9 356.9,669.5 364.8,668.2 372.6,670.8 380.5,666.9 389.2,663.5 397.8,663.5 405.7,660.3 413.5,664.3 429.8,648.0 437.9,651.2 445.7,656.4 453.6,654.6 461.4,660.3 468.8,661.6 477.2,655.6 485.6,655.6 492.9,652.5 500.8,650.4 509.4,656.4 517.3,643.3 524.9,642.3 533.5,651.2 541.4,646.4 549.2,648.5 557.1,648.5 565.0,644.1 572.8,659.8 581.5,664.3 597.7,664.3 605.1,667.7 613.4,663.5 629.2,663.5 637.5,669.5 645.4,672.7 654.1,663.5 661.4,664.3 669.3,675.3 676.3,676.8 685.5,683.9 693.4,682.6 701.8,674.2 709.6,674.2 717.7,678.2 724.8,679.5 733.5,672.1 741.3,673.4 749.7,678.7 757.6,677.4 766.0,674.2 773.8,659.0 782.5,659.0 790.3,660.6 798.2,659.0 805.3,657.2 813.9,666.9 821.2,671.3 829.6,666.9 837.5,664.3 845.4,665.6 853.7,659.0 861.6,632.3 870.5,632.3 886.2,640.2 892.8,641.5 901.9,640.2 909.8,644.1 917.7,640.2 925.5,644.1 933.4,641.2 941.8,649.3 949.9,649.3 957.5,663.0 974.0,669.5 985.8,667.7 1001.5,667.7 1012.0,670.8 1022.0,679.5 1030.3,679.5 1038.2,678.2 1044.8,679.5 1053.9,675.3 1061.8,675.3 1069.6,678.7 1077.5,668.2 1085.4,664.3 1093.2,667.4 1101.1,667.4 1109.0,663.5 1118.1,641.2 1125.2,638.6 1133.8,642.8 1141.7,645.1 1149.6,659.0 1157.4,659.0 1165.3,661.6 1181.0,673.4 1191.5,666.4 1198.1,665.1 1205.9,665.1 1213.8,670.3 1221.6,679.2 1229.0,681.3 1237.4,676.6 1245.2,677.4 1253.1,675.5 1260.9,678.2 1268.8,684.7 1276.7,687.9 1284.5,690.5 1292.4,683.4 1300.0,684.4" fill="none" stroke="#1e90ff" stroke-width="1" stroke-linejoin="round" shape-rendering="crispEdges"/>
<text x="9.2" y="610" font-size="11.5" fill="#000" text-anchor="start" font-weight="normal" textLength="90.4" lengthAdjust="spacingAndGlyphs" >RSI(14) 30.5841</text>
<text x="1638" y="608" font-size="12.5" fill="#000" text-anchor="start" font-weight="normal" >100</text>
<text x="1638" y="639" font-size="12.5" fill="#000" text-anchor="start" font-weight="normal" >70</text>
<text x="1638" y="689" font-size="12.5" fill="#000" text-anchor="start" font-weight="normal" >30</text>
<text x="1638" y="720" font-size="12.5" fill="#000" text-anchor="start" font-weight="normal" >0</text>
<rect x="5" y="724" width="1" height="3" fill="#000" shape-rendering="crispEdges"/>
<text x="4.2" y="739" font-size="12.6" fill="#000" text-anchor="start" font-weight="normal" textLength="68.8" lengthAdjust="spacingAndGlyphs" >25 Oct 2018</text>
<rect x="101" y="724" width="1" height="3" fill="#000" shape-rendering="crispEdges"/>
<text x="100.2" y="739" font-size="12.6" fill="#000" text-anchor="start" font-weight="normal" textLength="73.3" lengthAdjust="spacingAndGlyphs" >30 Oct 02:30</text>
<rect x="197" y="724" width="1" height="3" fill="#000" shape-rendering="crispEdges"/>
<text x="196.2" y="739" font-size="12.6" fill="#000" text-anchor="start" font-weight="normal" textLength="67.0" lengthAdjust="spacingAndGlyphs" >2 Nov 02:30</text>
<rect x="293" y="724" width="1" height="3" fill="#000" shape-rendering="crispEdges"/>
<text x="292.2" y="739" font-size="12.6" fill="#000" text-anchor="start" font-weight="normal" textLength="67.0" lengthAdjust="spacingAndGlyphs" >7 Nov 02:30</text>
<rect x="389" y="724" width="1" height="3" fill="#000" shape-rendering="crispEdges"/>
<text x="388.2" y="739" font-size="12.6" fill="#000" text-anchor="start" font-weight="normal" textLength="74.3" lengthAdjust="spacingAndGlyphs" >12 Nov 02:30</text>
<rect x="485" y="724" width="1" height="3" fill="#000" shape-rendering="crispEdges"/>
<text x="484.2" y="739" font-size="12.6" fill="#000" text-anchor="start" font-weight="normal" textLength="74.3" lengthAdjust="spacingAndGlyphs" >15 Nov 02:30</text>
<rect x="581" y="724" width="1" height="3" fill="#000" shape-rendering="crispEdges"/>
<text x="580.2" y="739" font-size="12.6" fill="#000" text-anchor="start" font-weight="normal" textLength="74.3" lengthAdjust="spacingAndGlyphs" >20 Nov 02:30</text>
<rect x="677" y="724" width="1" height="3" fill="#000" shape-rendering="crispEdges"/>
<text x="676.2" y="739" font-size="12.6" fill="#000" text-anchor="start" font-weight="normal" textLength="74.3" lengthAdjust="spacingAndGlyphs" >23 Nov 02:30</text>
<rect x="773" y="724" width="1" height="3" fill="#000" shape-rendering="crispEdges"/>
<text x="772.2" y="739" font-size="12.6" fill="#000" text-anchor="start" font-weight="normal" textLength="74.3" lengthAdjust="spacingAndGlyphs" >28 Nov 02:30</text>
<rect x="869" y="724" width="1" height="3" fill="#000" shape-rendering="crispEdges"/>
<text x="868.2" y="739" font-size="12.6" fill="#000" text-anchor="start" font-weight="normal" textLength="67.0" lengthAdjust="spacingAndGlyphs" >3 Dec 02:30</text>
<rect x="965" y="724" width="1" height="3" fill="#000" shape-rendering="crispEdges"/>
<text x="964.2" y="739" font-size="12.6" fill="#000" text-anchor="start" font-weight="normal" textLength="67.0" lengthAdjust="spacingAndGlyphs" >6 Dec 02:30</text>
<rect x="1061" y="724" width="1" height="3" fill="#000" shape-rendering="crispEdges"/>
<text x="1060.2" y="739" font-size="12.6" fill="#000" text-anchor="start" font-weight="normal" textLength="74.3" lengthAdjust="spacingAndGlyphs" >11 Dec 02:30</text>
<rect x="1157" y="724" width="1" height="3" fill="#000" shape-rendering="crispEdges"/>
<text x="1156.2" y="739" font-size="12.6" fill="#000" text-anchor="start" font-weight="normal" textLength="74.3" lengthAdjust="spacingAndGlyphs" >14 Dec 02:30</text>
<rect x="1253" y="724" width="1" height="3" fill="#000" shape-rendering="crispEdges"/>
<text x="1252.2" y="739" font-size="12.6" fill="#000" text-anchor="start" font-weight="normal" textLength="74.3" lengthAdjust="spacingAndGlyphs" >19 Dec 02:30</text>
</svg>
</body></html>
